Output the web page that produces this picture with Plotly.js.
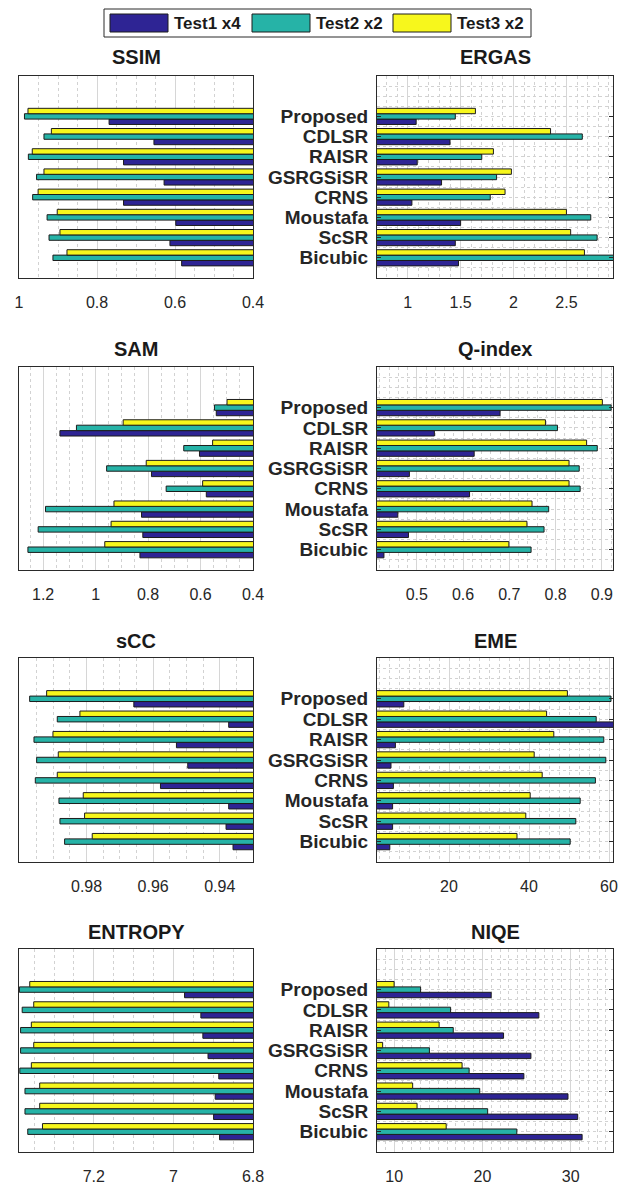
<!DOCTYPE html>
<html>
<head>
<meta charset="utf-8">
<script src="https://cdn.plot.ly/plotly-3.0.1.min.js"></script>
<style>
html,body{margin:0;padding:0;background:#fff;}
#chart{width:618px;height:1187px;}
</style>
</head>
<body>
<div id="chart"></div>
<script>
// ---------- data (top-to-bottom order as drawn) ----------
const categories = ['Proposed','CDLSR','RAISR','GSRGSiSR','CRNS','Moustafa','ScSR','Bicubic'];
const seriesNames = ['Test1 x4','Test2 x2','Test3 x2'];
const panelTitles = ['SSIM','ERGAS','SAM','Q-index','sCC','EME','ENTROPY','NIQE'];

const ssimTest1 = [0.769, 0.654, 0.732, 0.628, 0.732, 0.598, 0.613, 0.583];
const ssimTest2 = [0.986, 0.936, 0.976, 0.955, 0.965, 0.928, 0.923, 0.913];
const ssimTest3 = [0.977, 0.917, 0.966, 0.936, 0.951, 0.902, 0.895, 0.877];

const ergasTest1 = [1.08, 1.40, 1.09, 1.32, 1.04, 1.50, 1.45, 1.48];
const ergasTest2 = [1.45, 2.65, 1.70, 1.84, 1.78, 2.73, 2.79, 2.95];
const ergasTest3 = [1.64, 2.35, 1.81, 1.98, 1.92, 2.50, 2.54, 2.67];

const samTest1 = [0.540, 1.136, 0.604, 0.787, 0.578, 0.825, 0.820, 0.831];
const samTest2 = [0.547, 1.073, 0.664, 0.958, 0.731, 1.191, 1.219, 1.258];
const samTest3 = [0.499, 0.895, 0.554, 0.807, 0.592, 0.930, 0.941, 0.965];

const qTest1 = [0.680, 0.538, 0.624, 0.484, 0.614, 0.459, 0.482, 0.429];
const qTest2 = [0.920, 0.804, 0.890, 0.851, 0.853, 0.785, 0.775, 0.747];
const qTest3 = [0.901, 0.778, 0.867, 0.829, 0.829, 0.749, 0.738, 0.699];

const sccTest1 = [0.9658, 0.9373, 0.9530, 0.9496, 0.9578, 0.9373, 0.9381, 0.9360];
const sccTest2 = [0.9971, 0.9888, 0.9958, 0.9950, 0.9954, 0.9883, 0.9880, 0.9866];
const sccTest3 = [0.9920, 0.9820, 0.9901, 0.9885, 0.9888, 0.9810, 0.9806, 0.9783];

const emeTest1 = [8.7, 62.0, 6.6, 5.5, 6.1, 5.9, 5.9, 5.2];
const emeTest2 = [60.5, 56.8, 58.7, 59.2, 56.6, 52.8, 51.7, 50.3];
const emeTest3 = [49.6, 44.4, 46.2, 41.3, 43.3, 40.3, 39.2, 37.0];

const entropyTest1 = [6.972, 6.931, 6.926, 6.913, 6.886, 6.895, 6.899, 6.884];
const entropyTest2 = [7.387, 7.380, 7.384, 7.384, 7.386, 7.373, 7.373, 7.366];
const entropyTest3 = [7.361, 7.351, 7.357, 7.351, 7.357, 7.336, 7.336, 7.329];

const niqeTest1 = [21.0, 26.4, 22.4, 25.5, 24.7, 29.7, 30.8, 31.3];
const niqeTest2 = [13.0, 16.4, 16.7, 14.0, 18.5, 19.7, 20.6, 23.9];
const niqeTest3 = [10.0, 9.4, 15.1, 8.7, 17.7, 12.1, 12.6, 15.9];

// tick labels per panel
const ssimTicks = [0.4, 0.6, 0.8, 1];
const ergasTicks = [1, 1.5, 2, 2.5];
const samTicks = [0.4, 0.6, 0.8, 1, 1.2];
const qTicks = [0.5, 0.6, 0.7, 0.8, 0.9];
const sccTicks = [0.94, 0.96, 0.98];
const emeTicks = [20, 40, 60];
const entropyTicks = [6.8, 7, 7.2];
const niqeTicks = [10, 20, 30];

const panelSeries = [
  [ssimTest1, ssimTest2, ssimTest3],
  [ergasTest1, ergasTest2, ergasTest3],
  [samTest1, samTest2, samTest3],
  [qTest1, qTest2, qTest3],
  [sccTest1, sccTest2, sccTest3],
  [emeTest1, emeTest2, emeTest3],
  [entropyTest1, entropyTest2, entropyTest3],
  [niqeTest1, niqeTest2, niqeTest3]
];
const panelTicks = [ssimTicks, ergasTicks, samTicks, qTicks, sccTicks, emeTicks, entropyTicks, niqeTicks];

// ---------- axis settings (styles / geometry) ----------
const axisRanges = [
  [1.0, 0.4], [0.71, 2.94],
  [1.292, 0.4], [0.414, 0.924],
  [1.0003, 0.93], [2, 61],
  [7.388, 6.8], [8.06, 34.8]
];
const minorSteps = [0.05, 0.1, 0.05, 0.02, 0.005, 2.5, 0.05, 1];

const colors = ['#2e2494', '#26b3a7', '#f7f71c'];
const W = 618, H = 1187;
const colX = [[19, 253], [377, 613]];
const rowY = [[76, 278], [367, 570], [658, 862], [949, 1152]];
const titleY = [57, 349, 641, 932];

const yPos = categories.map((c, i) => categories.length - i);

const FONT = 'Liberation Sans, Arial, Helvetica, sans-serif';
const TXT = '#262626';
const GRID = '#d6d6d6';
const MINOR = '#d2d2d2';

const traces = [];
const layout = {
  width: W, height: H,
  margin: {l: 0, r: 0, t: 0, b: 0},
  paper_bgcolor: '#fff', plot_bgcolor: '#fff',
  barmode: 'group', bargap: 0.2, bargroupgap: 0,
  showlegend: false,
  font: {family: FONT, color: TXT},
  annotations: [], shapes: []
};

panelSeries.forEach((series, k) => {
  const ax = k === 0 ? '' : String(k + 1);
  const col = k % 2, row = Math.floor(k / 2);
  series.forEach((vals, s) => {
    traces.push({
      type: 'bar', orientation: 'h',
      x: vals, y: yPos,
      name: seriesNames[s],
      xaxis: 'x' + ax, yaxis: 'y' + ax,
      marker: {color: colors[s], line: {color: '#1c1c1c', width: 1}},
      hoverinfo: 'x+name'
    });
  });
  const xd = [colX[col][0] / W, colX[col][1] / W];
  const yd = [1 - rowY[row][1] / H, 1 - rowY[row][0] / H];
  layout['xaxis' + ax] = {
    domain: xd, anchor: 'y' + ax,
    range: axisRanges[k],
    tickmode: 'array', tickvals: panelTicks[k],
    ticks: '', ticklabelstandoff: 10,
    tickfont: {size: 16, color: TXT, family: FONT},
    showline: true, mirror: true, linecolor: '#2a2a2a', linewidth: 1,
    showgrid: true, gridcolor: GRID, gridwidth: 1,
    zeroline: false,
    minor: {tickmode: 'linear', tick0: 0, dtick: minorSteps[k], showgrid: true,
            gridcolor: MINOR, griddash: 'dot', gridwidth: 1, ticks: ''}
  };
  const yax = {
    domain: yd, anchor: 'x' + ax,
    range: [0, 10],
    tickmode: 'array', tickvals: yPos,
    showline: true, mirror: true, linecolor: '#2a2a2a', linewidth: 1,
    zeroline: false
  };
  if (col === 1) {
    Object.assign(yax, {
      ticktext: categories, showticklabels: true,
      ticks: 'inside', ticklen: 4, tickcolor: '#2a2a2a', mirror: 'ticks',
      ticklabelstandoff: 4,
      tickfont: {size: 19, color: TXT, family: FONT, weight: 'bold'},
      showgrid: true, gridcolor: MINOR, griddash: 'dot',
      minor: {tickmode: 'linear', tick0: 0, dtick: 0.5, showgrid: true,
              gridcolor: MINOR, griddash: 'dot', ticks: ''}
    });
  } else {
    Object.assign(yax, {showticklabels: false, ticks: '', showgrid: false});
  }
  layout['yaxis' + ax] = yax;
  layout.annotations.push({
    text: panelTitles[k], xref: 'paper', yref: 'paper',
    x: (xd[0] + xd[1]) / 2, y: 1 - titleY[row] / H,
    xanchor: 'center', yanchor: 'middle', showarrow: false,
    font: {size: 20, color: '#1a1a1a', family: FONT, weight: 'bold'}
  });
});

// ---------- legend (drawn box with swatches) ----------
const legBox = [104, 9, 531, 37];
layout.shapes.push({type: 'rect', xref: 'paper', yref: 'paper',
  x0: legBox[0] / W, x1: legBox[2] / W, y0: 1 - legBox[3] / H, y1: 1 - legBox[1] / H,
  line: {color: '#2a2a2a', width: 1}, fillcolor: '#fff', layer: 'above'});
const swX = [110, 252, 393];
seriesNames.forEach((nm, s) => {
  layout.shapes.push({type: 'rect', xref: 'paper', yref: 'paper',
    x0: swX[s] / W, x1: (swX[s] + 58) / W, y0: 1 - 32 / H, y1: 1 - 14 / H,
    line: {color: '#1c1c1c', width: 1}, fillcolor: colors[s], layer: 'above'});
  layout.annotations.push({text: nm, xref: 'paper', yref: 'paper',
    x: (swX[s] + 62) / W, y: 1 - 23 / H, xanchor: 'left', yanchor: 'middle',
    showarrow: false, font: {size: 17, color: '#1a1a1a', family: FONT, weight: 'bold'}});
});

Plotly.newPlot('chart', traces, layout, {staticPlot: true, displayModeBar: false});
</script>
</body>
</html>
